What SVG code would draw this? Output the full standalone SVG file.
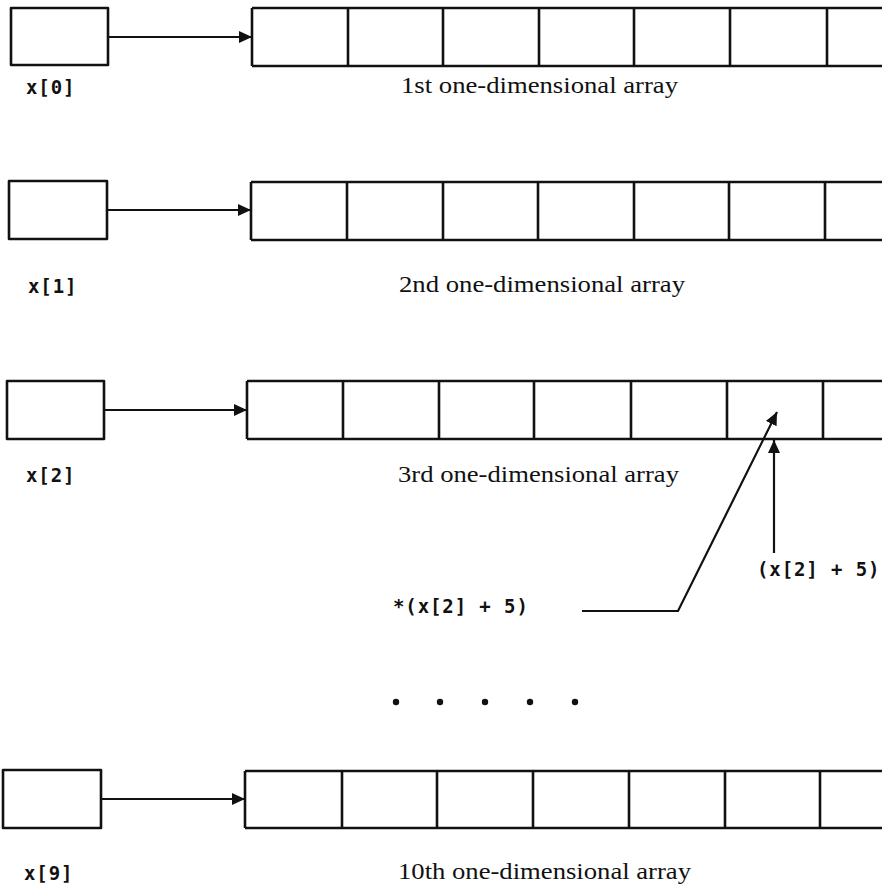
<svg xmlns="http://www.w3.org/2000/svg" width="882" height="884" viewBox="0 0 882 884">
<defs>
<style>
.bx{fill:#fff;stroke:#111;stroke-width:2.6;stroke-linejoin:round}
.ln{fill:none;stroke:#111;stroke-width:2.6}
.cn{fill:none;stroke:#111;stroke-width:2.2}
.mono{font-family:"DejaVu Sans Mono","Liberation Mono",monospace;font-weight:bold;font-size:19px;letter-spacing:0.9px;fill:#111}
.ser{font-family:"Liberation Serif","Times New Roman",serif;font-size:24px;fill:#111}
</style>
<marker id="ah" markerUnits="userSpaceOnUse" markerWidth="14" markerHeight="14" viewBox="0 0 14 14" refX="13" refY="7" orient="auto">
<path d="M0,1 L13,7 L0,13 Z" fill="#111"/>
</marker>
</defs>

<g id="ptr0"><rect class="bx" x="11" y="8" width="97" height="57"/><text class="mono" x="26" y="94">x[0]</text></g>
<g id="arr0">
<path class="ln" d="M252,8 H882 M252,66 H882 M252,8 V66 M348,8 V66 M443,8 V66 M539,8 V66 M634,8 V66 M730,8 V66 M827,8 V66"/>
<text class="ser" x="401" y="93" textLength="277" lengthAdjust="spacingAndGlyphs">1st one-dimensional array</text>
</g>

<g id="ptr1"><rect class="bx" x="9" y="181" width="98" height="58"/><text class="mono" x="28" y="293">x[1]</text></g>
<g id="arr1">
<path class="ln" d="M251,182 H882 M251,240 H882 M251,182 V240 M347,182 V240 M443,182 V240 M538,182 V240 M634,182 V240 M729,182 V240 M825,182 V240"/>
<text class="ser" x="399" y="292" textLength="286" lengthAdjust="spacingAndGlyphs">2nd one-dimensional array</text>
</g>

<g id="ptr2"><rect class="bx" x="7" y="381" width="97" height="58"/><text class="mono" x="26" y="482">x[2]</text></g>
<g id="arr2">
<path class="ln" d="M247,381 H882 M247,439 H882 M247,381 V439 M343,381 V439 M439,381 V439 M534,381 V439 M631,381 V439 M727,381 V439 M823,381 V439"/>
<text class="ser" x="398" y="482" textLength="281" lengthAdjust="spacingAndGlyphs">3rd one-dimensional array</text>
</g>

<g id="lbl-addr"><text class="mono" x="757" y="576">(x[2] + 5)</text></g>
<g id="lbl-deref"><text class="mono" x="393" y="613">*(x[2] + 5)</text></g>

<g id="dots" fill="#111">
<circle cx="396" cy="702" r="3.2"/><circle cx="440" cy="702" r="3.2"/><circle cx="485" cy="702" r="3.2"/><circle cx="530" cy="702" r="3.2"/><circle cx="575" cy="702" r="3.2"/>
</g>

<g id="ptr9"><rect class="bx" x="3" y="770" width="98" height="58"/><text class="mono" x="24" y="880">x[9]</text></g>
<g id="arr9">
<path class="ln" d="M245,771 H882 M245,828 H882 M245,771 V828 M342,771 V828 M437,771 V828 M533,771 V828 M629,771 V828 M725,771 V828 M820,771 V828"/>
<text class="ser" x="398" y="879" textLength="293" lengthAdjust="spacingAndGlyphs">10th one-dimensional array</text>
</g>

<g id="connectors">
<line class="cn" x1="108" y1="37" x2="252" y2="37" marker-end="url(#ah)"/>
<line class="cn" x1="107" y1="210" x2="251" y2="210" marker-end="url(#ah)"/>
<line class="cn" x1="104" y1="410" x2="247" y2="410" marker-end="url(#ah)"/>
<line class="cn" x1="101" y1="799" x2="245" y2="799" marker-end="url(#ah)"/>
<line class="cn" x1="774" y1="553" x2="774" y2="440" marker-end="url(#ah)"/>
<polyline class="cn" points="582,611 678,611 777,412" marker-end="url(#ah)"/>
</g>
</svg>
